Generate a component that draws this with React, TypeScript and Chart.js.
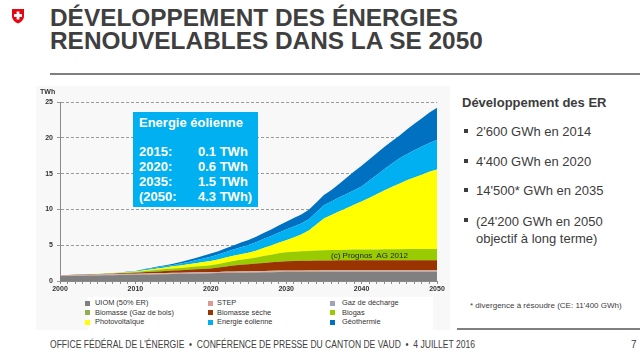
import React, { useEffect, useRef } from 'react';
import { Chart, registerables } from 'chart.js';

Chart.register(...registerables);

const years = [
  '2000','2001','2002','2003','2004','2005','2006','2007','2008','2009',
  '2010','2011','2012','2013','2014','2015','2016','2017','2018','2019',
  '2020','2021','2022','2023','2024','2025','2026','2027','2028','2029',
  '2030','2031','2032','2033','2034','2035','2036','2037','2038','2039',
  '2040','2041','2042','2043','2044','2045','2046','2047','2048','2049',
  '2050',
];
const xTickLabels = ['2000', '2010', '2020', '2030', '2040', '2050'];
const yTicks = [0, 5, 10, 15, 20, 25];

// TWh per year, 2000..2050 (stacked bottom to top)
const uiom = [0.70,0.71,0.73,0.74,0.76,0.78,0.80,0.82,0.84,0.86,0.88,
  0.90,0.92,0.94,0.96,0.98, 1.00,1.02,1.04,1.06,1.08, 1.10,1.12,1.14,1.16,1.18,
  1.19,1.21,1.22,1.24,1.25, 1.26,1.26,1.27,1.27,1.28, 1.28,1.28,1.28,1.28,1.28,
  1.28,1.28,1.28,1.28,1.28, 1.28,1.28,1.28,1.28,1.28];
const step = [0.06,0.06,0.06,0.07,0.07,0.07,0.08,0.08,0.08,0.09,0.09,
  0.09,0.09,0.10,0.10,0.10, 0.10,0.11,0.11,0.11,0.11, 0.11,0.12,0.12,0.12,0.12,
  0.12,0.13,0.13,0.13,0.13, 0.13,0.14,0.14,0.14,0.14, 0.14,0.14,0.15,0.15,0.15,
  0.15,0.15,0.15,0.15,0.15, 0.15,0.15,0.15,0.15,0.15];
const gazDecharge = [0.05,0.05,0.05,0.05,0.05,0.05,0.05,0.05,0.05,0.05,0.05,
  0.04,0.04,0.04,0.04,0.04, 0.04,0.04,0.04,0.04,0.04, 0.04,0.04,0.04,0.04,0.04,
  0.04,0.04,0.04,0.04,0.04, 0.035,0.035,0.035,0.035,0.035, 0.035,0.035,0.035,0.035,0.035,
  0.035,0.035,0.035,0.035,0.035, 0.035,0.035,0.035,0.035,0.035];
const gazBois = [0.00,0.00,0.01,0.01,0.01,0.01,0.01,0.01,0.01,0.01,0.01,
  0.01,0.02,0.02,0.02,0.02, 0.02,0.02,0.02,0.02,0.02, 0.02,0.03,0.03,0.03,0.03,
  0.03,0.03,0.04,0.04,0.04, 0.04,0.04,0.04,0.04,0.04, 0.04,0.04,0.04,0.04,0.04,
  0.04,0.04,0.04,0.04,0.04, 0.04,0.04,0.04,0.04,0.04];
const biomasseSeche = [0.02,0.02,0.03,0.03,0.04,0.05,0.06,0.07,0.09,0.11,0.13,
  0.17,0.21,0.24,0.28,0.31, 0.34,0.38,0.42,0.46,0.50, 0.60,0.72,0.83,0.92,0.98,
  1.05,1.12,1.18,1.24,1.29, 1.32,1.34,1.36,1.37,1.38, 1.38,1.39,1.39,1.39,1.39,
  1.39,1.39,1.39,1.39,1.39, 1.39,1.39,1.38,1.38,1.38];
const biogas = [0.01,0.01,0.02,0.02,0.03,0.03,0.04,0.05,0.06,0.08,0.10,
  0.14,0.18,0.22,0.26,0.30, 0.33,0.36,0.39,0.42,0.45, 0.50,0.56,0.62,0.69,0.75,
  0.86,0.97,1.07,1.17,1.25, 1.30,1.33,1.35,1.39,1.42, 1.44,1.46,1.47,1.49,1.50,
  1.51,1.52,1.53,1.54,1.55, 1.56,1.56,1.57,1.57,1.57];
const photovoltaique = [0.00,0.00,0.00,0.00,0.01,0.01,0.01,0.02,0.03,0.05,0.07,
  0.10,0.14,0.19,0.24,0.30, 0.35,0.41,0.47,0.53,0.60, 0.64,0.68,0.73,0.78,0.84,
  0.95,1.10,1.27,1.47,1.70, 2.00,2.35,2.85,3.65,4.45, 4.90,5.35,5.80,6.25,6.70,
  7.20,7.70,8.20,8.70,9.15, 9.60,10.00,10.40,10.80,11.13];
const eolienne = [0.00,0.00,0.00,0.01,0.01,0.01,0.01,0.02,0.03,0.04,0.05,
  0.15,0.16,0.17,0.18,0.20, 0.26,0.33,0.41,0.50,0.60, 0.68,0.78,0.88,0.98,1.08,
  1.17,1.25,1.33,1.41,1.48, 1.52,1.55,1.58,1.70,1.85, 1.90,1.95,2.00,2.05,2.10,
  2.40,2.70,3.00,3.25,3.50, 3.65,3.80,3.92,4.02,4.10];
const geothermie = [0.00,0.00,0.00,0.00,0.00,0.00,0.00,0.01,0.01,0.02,0.03,
  0.05,0.07,0.10,0.13,0.17, 0.21,0.26,0.31,0.37,0.43, 0.48,0.53,0.58,0.64,0.70,
  0.77,0.85,0.93,1.01,1.10, 1.18,1.26,1.34,1.37,1.40, 1.60,1.90,2.25,2.60,2.90,
  2.96,3.02,3.08,3.14,3.20, 3.45,3.70,3.95,4.25,4.50];

const seriesLabels = [
  'UIOM (50% ER)', 'STEP', 'Gaz de décharge',
  'Biomasse (Gaz de bois)', 'Biomasse sèche', 'Biogas',
  'Photovoltaïque', 'Energie éolienne', 'Géothermie',
];
const seriesData = [uiom, step, gazDecharge, gazBois, biomasseSeche, biogas, photovoltaique, eolienne, geothermie];
const seriesColors = ['#808080', '#d99a92', '#a3a3b8', '#8fae4c', '#993300', '#99cc00', '#ffff00', '#00b0f0', '#0070c0'];

const boxYears = ['2015:', '2020:', '2035:', '(2050:'];
const boxValues = ['0.1 TWh', '0.6 TWh', '1.5 TWh', '4.3 TWh)'];

const bullets = ["2'600 GWh en 2014", "4'400 GWh en 2020", "14'500* GWh en 2035"];

const FONT = "'Liberation Sans', Arial, Helvetica, sans-serif";

export default function App() {
  const canvasRef = useRef<HTMLCanvasElement | null>(null);

  useEffect(() => {
    document.body.style.margin = '0';
    const canvas = canvasRef.current;
    if (!canvas) return;
    Chart.defaults.font.family = FONT;
    const chart = new Chart(canvas, {
      type: 'line',
      data: {
        labels: years,
        datasets: seriesData.map((d, i) => ({
          label: seriesLabels[i],
          data: d,
          backgroundColor: seriesColors[i],
          borderColor: seriesColors[i],
          borderWidth: 0,
          pointRadius: 0,
          fill: i === 0 ? 'origin' : '-1',
          tension: 0,
        })),
      },
      options: {
        responsive: false,
        animation: false,
        events: [],
        layout: { padding: { top: 16, right: 13, left: 0, bottom: 0 } },
        plugins: { legend: { display: false }, tooltip: { enabled: false } },
        scales: {
          x: {
            type: 'category',
            offset: false,
            grid: { drawOnChartArea: false, tickLength: 3, color: '#8a8a8a' },
            border: { color: '#8a8a8a' },
            ticks: {
              autoSkip: false,
              maxRotation: 0,
              padding: 1,
              color: '#333',
              font: { size: 7, weight: 'bold' },
              callback: (_v: any, i: number) => (xTickLabels.includes(years[i]) ? years[i] : ''),
            },
            afterFit: (s: any) => { s.height = 15; },
          },
          y: {
            stacked: true,
            min: 0,
            max: 25,
            afterBuildTicks: (s: any) => { s.ticks = yTicks.map((v) => ({ value: v })); },
            grid: { color: '#9a9a9a', tickLength: 3 },
            border: { color: '#8a8a8a', dash: [3, 2] },
            ticks: { padding: 4, color: '#333', font: { size: 7, weight: 'bold' } },
            afterFit: (s: any) => { s.width = 40; },
          },
        },
      },
    });
    return () => chart.destroy();
  }, []);

  const textColor = '#3c3c3c';

  return (
    <div style={{ position: 'relative', width: 640, height: 356, overflow: 'hidden', background: '#fff', fontFamily: FONT, color: textColor }}>
      {/* Swiss shield */}
      <svg style={{ position: 'absolute', left: 11, top: 8 }} width="14" height="16" viewBox="0 0 14 16">
        <path d="M1 1 H13 V8 C13 12 9.5 14.5 7 15.5 C4.5 14.5 1 12 1 8 Z" fill="#e30613" />
        <rect x="5.6" y="3.5" width="2.8" height="8" fill="#fff" />
        <rect x="3" y="6.1" width="8" height="2.8" fill="#fff" />
      </svg>
      {/* Title */}
      <div style={{ position: 'absolute', left: 50, top: 6, fontSize: 24.4, lineHeight: '23px', fontWeight: 'bold', color: '#3f3f3f', whiteSpace: 'nowrap' }}>
        DÉVELOPPEMENT DES ÉNERGIES<br />RENOUVELABLES DANS LA SE 2050
      </div>
      <div style={{ position: 'absolute', left: 50, top: 73, width: 590, height: 2, background: '#7f7f7f' }} />

      {/* chart panel */}
      <div style={{ position: 'absolute', left: 36, top: 86, width: 414, height: 244, background: '#f8f8f8' }} />
      <div style={{ position: 'absolute', left: 88, top: 297, width: 345, height: 33, background: '#fff' }} />
      <canvas ref={canvasRef} width={430} height={210} style={{ position: 'absolute', left: 20, top: 86, width: 430, height: 210 }} />
      <div style={{ position: 'absolute', left: 40, top: 88, fontSize: 7, fontWeight: 'bold', color: '#333' }}>TWh</div>

      {/* info box */}
      <div style={{ position: 'absolute', left: 133, top: 112, width: 125, height: 95, background: '#00b0f0', color: '#fff', fontWeight: 'bold' }}>
        <div style={{ position: 'absolute', left: 6, top: 3, fontSize: 13, whiteSpace: 'nowrap' }}>Energie éolienne</div>
        {boxYears.map((y, i) => (
          <React.Fragment key={y}>
            <div style={{ position: 'absolute', left: 6, top: 32 + i * 15, fontSize: 13, whiteSpace: 'nowrap' }}>{y}</div>
            <div style={{ position: 'absolute', left: 65, top: 32 + i * 15, fontSize: 13, whiteSpace: 'nowrap' }}>{boxValues[i]}</div>
          </React.Fragment>
        ))}
      </div>

      <div style={{ position: 'absolute', left: 331, top: 251, fontSize: 8, color: '#222', whiteSpace: 'nowrap' }}>(c) Prognos&nbsp; AG 2012</div>

      {/* legend */}
      {seriesLabels.map((lab, i) => {
        const col = i % 3;
        const row = Math.floor(i / 3);
        const mx = [85, 208, 330][col];
        const tx = [95, 217, 342][col];
        const cy = 303 + row * 9.5;
        return (
          <React.Fragment key={lab}>
            <div style={{ position: 'absolute', left: mx, top: cy - 2.5, width: 5, height: 5, background: seriesColors[i] }} />
            <div style={{ position: 'absolute', left: tx, top: cy - 5, fontSize: 7.4, lineHeight: '10px', color: '#333', whiteSpace: 'nowrap' }}>{lab}</div>
          </React.Fragment>
        );
      })}

      {/* right text */}
      <div style={{ position: 'absolute', left: 462, top: 95, fontSize: 13, fontWeight: 'bold', whiteSpace: 'nowrap' }}>Développement des ER</div>
      {bullets.map((b, i) => (
        <React.Fragment key={b}>
          <div style={{ position: 'absolute', left: 464, top: 131 + i * 29.5 - 2, width: 4, height: 4, background: textColor }} />
          <div style={{ position: 'absolute', left: 476, top: 124 + i * 29.5, fontSize: 13, whiteSpace: 'nowrap' }}>{b}</div>
        </React.Fragment>
      ))}
      <div style={{ position: 'absolute', left: 464, top: 131 + 3 * 29.5 - 2, width: 4, height: 4, background: textColor }} />
      <div style={{ position: 'absolute', left: 476, top: 124 + 3 * 29.5, fontSize: 13, lineHeight: '17px', whiteSpace: 'nowrap' }}>
        (24'200 GWh en 2050<br />objectif à long terme)
      </div>
      <div style={{ position: 'absolute', left: 470, top: 301, fontSize: 8, whiteSpace: 'nowrap' }}>* divergence à résoudre (CE: 11'400 GWh)</div>

      {/* footer */}
      <div style={{ position: 'absolute', left: 457, top: 328, width: 183, height: 2, background: '#7f7f7f' }} />
      <div style={{ position: 'absolute', left: 50, top: 339, fontSize: 10, whiteSpace: 'nowrap', color: '#404040', transform: 'scaleX(0.855)', transformOrigin: '0 0' }}>
        OFFICE FÉDÉRAL DE L'ÉNERGIE &nbsp;•&nbsp; CONFÉRENCE DE PRESSE DU CANTON DE VAUD &nbsp;•&nbsp; 4 JUILLET 2016
      </div>
      <div style={{ position: 'absolute', left: 631, top: 339, fontSize: 10, color: '#404040' }}>7</div>
    </div>
  );
}
